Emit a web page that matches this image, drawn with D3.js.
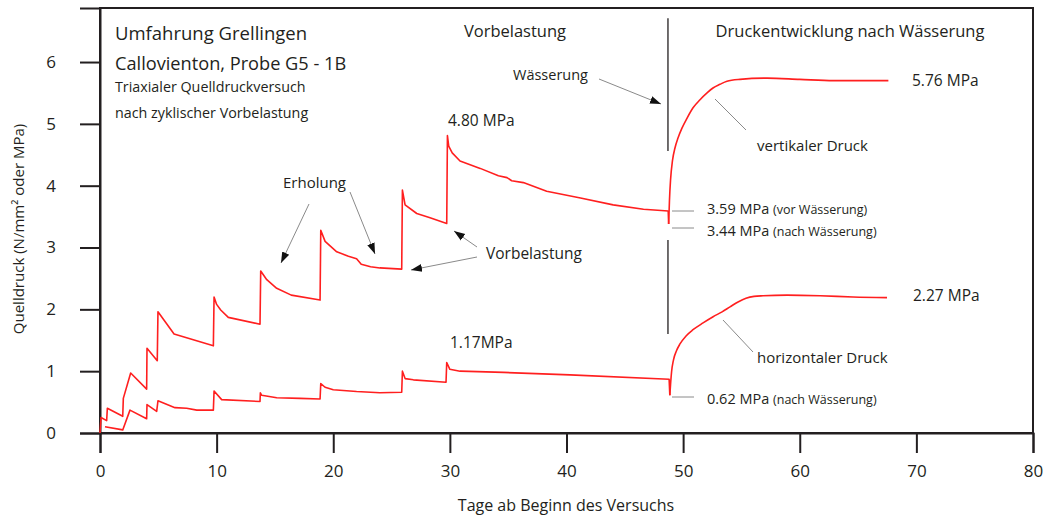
<!DOCTYPE html>
<html><head><meta charset="utf-8">
<script src="https://cdn.jsdelivr.net/npm/d3@7"></script>
<style>
body{margin:0;background:#fff;}
svg text{font-family:"Open Sans","Noto Sans",sans-serif;fill:#231f20;}
</style></head>
<body><svg id="chart" width="1049" height="521"></svg>
<script>
// ---- data ----
const xTicks = [0,10,20,30,40,50,60,70,80];
const yTicks = [0,1,2,3,4,5,6];
const xLabel = "Tage ab Beginn des Versuchs";
const yLabel = "Quelldruck (N/mm² oder MPa)";
// vertical pressure, preloading phase [day, MPa]
const vertPre = [[0,0],[0.09,0.25],[0.57,0.20],[0.63,0.40],[1.95,0.27],[2.0,0.56],[2.63,0.97],[4.0,0.71],[4.03,1.37],[4.91,1.17],[4.97,1.96],[6.35,1.60],[9.72,1.41],[9.78,2.20],[10.0,2.08],[10.35,1.99],[11.0,1.87],[13.72,1.76],[13.78,2.62],[14.3,2.48],[15.15,2.34],[16.4,2.23],[18.87,2.15],[18.93,3.28],[19.3,3.10],[20.3,2.93],[21.3,2.86],[22.0,2.82],[22.4,2.73],[23.2,2.69],[24.0,2.67],[25.87,2.65],[25.93,3.93],[26.16,3.69],[27.16,3.55],[28.3,3.48],[29.73,3.39],[29.79,4.81],[29.9,4.64],[30.2,4.53],[30.87,4.40],[32.6,4.28],[34.16,4.16],[34.9,4.13],[35.3,4.08],[36.3,4.05],[38.3,3.91],[41.2,3.80],[44.0,3.69],[46.6,3.62],[48.72,3.59],[48.76,3.38]];
// vertical pressure after wetting
const vertPost = [[48.76,3.38],[48.83,3.77],[48.92,4.09],[49.09,4.41],[49.30,4.61],[49.56,4.77],[49.90,4.93],[50.33,5.09],[50.85,5.26],[51.45,5.39],[52.05,5.50],[52.56,5.58],[53.16,5.64],[53.76,5.69],[54.87,5.72],[57.2,5.74],[60.0,5.72],[62.9,5.70],[67.6,5.70]];
// horizontal pressure, preloading phase
const horPre = [[0.43,0.10],[1.95,0.05],[2.57,0.37],[4.0,0.23],[4.03,0.46],[4.86,0.35],[4.97,0.52],[6.43,0.41],[7.43,0.40],[8.3,0.37],[9.72,0.37],[9.78,0.68],[10.43,0.54],[13.72,0.51],[13.75,0.65],[13.87,0.61],[15.15,0.57],[17.15,0.56],[18.87,0.55],[18.93,0.80],[19.3,0.74],[20.0,0.70],[22.0,0.67],[24.0,0.65],[25.87,0.66],[25.93,1.00],[26.16,0.88],[26.87,0.86],[29.67,0.82],[29.73,1.14],[30.0,1.03],[30.87,1.00],[34.6,0.98],[40.3,0.94],[48.8,0.87],[48.86,0.61]];
// horizontal pressure after wetting
const horPost = [[48.86,0.61],[48.92,0.78],[49.01,0.99],[49.17,1.18],[49.43,1.33],[49.73,1.44],[50.25,1.57],[50.85,1.67],[51.71,1.78],[52.57,1.88],[53.34,1.96],[54.02,2.04],[54.71,2.12],[55.39,2.18],[56.08,2.21],[56.85,2.22],[58.91,2.23],[61.74,2.22],[64.57,2.20],[67.48,2.19]];

const svg = d3.select("#chart");
const x = d3.scaleLinear().domain([0,80]).range([100,1033]);
const y = d3.scaleLinear().domain([0,6.874]).range([433,8]);

// defs: arrowhead
svg.append("defs").append("marker").attr("id","ah").attr("viewBox","0 0 10 10")
  .attr("refX",10).attr("refY",5).attr("markerWidth",11).attr("markerHeight",11)
  .attr("markerUnits","userSpaceOnUse").attr("orient","auto")
  .append("path").attr("d","M0,1.5 L10,5 L0,8.5 Z").attr("fill","#111");

// frame
svg.append("rect").attr("x",x(0)).attr("y",y(6.874)).attr("width",x(80)-x(0)).attr("height",y(0)-y(6.874))
  .attr("fill","none").attr("stroke","#231f20").attr("stroke-width",2);

// axes
const xAxis = d3.axisBottom(x).tickValues(xTicks).tickSize(20).tickPadding(8).tickFormat(d3.format("d"));
const gx = svg.append("g").attr("transform",`translate(0,${y(0)})`).call(xAxis);
const yAxis = d3.axisLeft(y).tickValues(yTicks).tickSize(20).tickPadding(37).tickFormat(d3.format("d"));
const gy = svg.append("g").attr("transform",`translate(${x(0)},0)`).call(yAxis);
[gx,gy].forEach(g=>{
  g.select(".domain").attr("stroke","#231f20").attr("stroke-width",2);
  g.selectAll(".tick line").attr("stroke","#231f20").attr("stroke-width",2);
  g.selectAll(".tick text").style("font-size","17px").attr("fill","#231f20").style("font-family","'Open Sans',sans-serif");
});
gy.selectAll(".tick text").attr("text-anchor","middle").attr("dx","8");
gx.selectAll(".tick text").attr("dy","0.95em");

svg.append("text").attr("x",566).attr("y",511).attr("text-anchor","middle").style("font-size","16px").text(xLabel);
svg.append("text").attr("transform","translate(24,229) rotate(-90)").attr("text-anchor","middle").style("font-size","15px").text(yLabel);

// lines
const red = "#ff1f1f";
const lin = d3.line().x(d=>x(d[0])).y(d=>y(d[1]));
const smooth = d3.line().x(d=>x(d[0])).y(d=>y(d[1])).curve(d3.curveMonotoneX);
[vertPre,horPre].forEach(s=>svg.append("path").attr("d",lin(s)).attr("fill","none").attr("stroke",red).attr("stroke-width",1.6).attr("stroke-linejoin","round"));
[vertPost,horPost].forEach(s=>svg.append("path").attr("d",smooth(s)).attr("fill","none").attr("stroke",red).attr("stroke-width",1.6));

// phase separator
svg.append("line").attr("x1",x(48.7)).attr("x2",x(48.7)).attr("y1",y(6.71)).attr("y2",y(4.56)).attr("stroke","#231f20").attr("stroke-width",1.3);
svg.append("line").attr("x1",x(48.7)).attr("x2",x(48.7)).attr("y1",y(3.12)).attr("y2",y(1.6)).attr("stroke","#231f20").attr("stroke-width",1.3);

// texts
function txt(t,px,py,size,anchor){return svg.append("text").attr("x",px).attr("y",py).style("font-size",size+"px").attr("text-anchor",anchor||"start").text(t);}
txt("Umfahrung Grellingen",115,40,18.5);
txt("Callovienton, Probe G5 - 1B",115,70,18.2);
txt("Triaxialer Quelldruckversuch",115,92,14.3);
txt("nach zyklischer Vorbelastung",115,118,14.3);
txt("Vorbelastung",515,37,16.5,"middle");
txt("Druckentwicklung nach Wässerung",850,37,16.5,"middle");
txt("Wässerung",513,80,14.5);
txt("4.80 MPa",448,126,15.5);
txt("1.17MPa",450,348,15.5);
txt("5.76 MPa",912,86,15.5);
txt("2.27 MPa",913,301,15.5);
txt("Erholung",283,188,15);
txt("Vorbelastung",486,259,15.5);
txt("vertikaler Druck",757,151,15);
txt("horizontaler Druck",757,363,15);

function mpa(val,note,px,py){
  const t = svg.append("text").attr("x",px).attr("y",py).style("font-size","14.5px");
  t.append("tspan").text(val+" ");
  t.append("tspan").style("font-size","12.5px").text(note);
}
mpa("3.59 MPa","(vor Wässerung)",707,214);
mpa("3.44 MPa","(nach Wässerung)",707,236);
mpa("0.62 MPa","(nach Wässerung)",707,404);

// leader lines
const gray="#8a8a8a";
function lead(x1,y1,x2,y2,arrow){
  const l = svg.append("line").attr("x1",x1).attr("y1",y1).attr("x2",x2).attr("y2",y2).attr("stroke",gray).attr("stroke-width",1);
  if(arrow) l.attr("marker-end","url(#ah)");
}
lead(672,211,694,211);
lead(672,228,694,228);
lead(672,397,694,397);
lead(723,320,753,352);
lead(715,99,746,130);
lead(599,79,661,104,true);
lead(309,204,281,263,true);
lead(350,192,375,254,true);
lead(477,247,454,231,true);
lead(477,257,411,270,true);
</script></body></html>
